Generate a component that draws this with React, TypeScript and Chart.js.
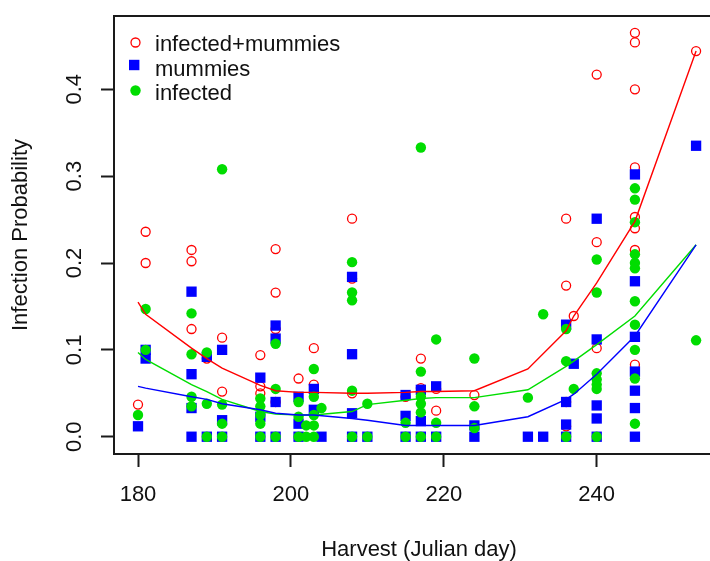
import React, { useEffect, useRef } from 'react';
import { Chart, registerables } from 'chart.js';

Chart.register(...registerables);

// ---- data: infected+mummies (red open circles)
const redX = [180, 181, 181, 187, 187, 187, 189, 191, 191, 196, 196, 196, 198, 198, 198, 198, 201, 203, 203, 208, 208, 208, 215, 217, 217, 219, 219, 224, 236, 236, 236, 236, 237, 240, 240, 240, 245, 245, 245, 245, 245, 245, 245, 245, 253];
const redY = [0.037, 0.236, 0.2, 0.215, 0.202, 0.124, 0.09, 0.114, 0.052, 0.094, 0.058, 0.05, 0.216, 0.166, 0.124, 0.04, 0.067, 0.102, 0.06, 0.251, 0.182, 0.05, 0.046, 0.09, 0.056, 0.055, 0.03, 0.048, 0.251, 0.174, 0.04, 0.012, 0.139, 0.417, 0.224, 0.102, 0.465, 0.454, 0.4, 0.31, 0.253, 0.24, 0.215, 0.083, 0.444];

// ---- mummies (blue squares)
const blueX = [180, 181, 181, 187, 187, 187, 187, 189, 189, 191, 191, 191, 196, 196, 196, 198, 198, 198, 198, 201, 201, 201, 203, 203, 204, 208, 208, 208, 208, 210, 215, 215, 215, 217, 217, 217, 219, 219, 224, 224, 231, 233, 236, 236, 236, 236, 237, 240, 240, 240, 240, 240, 245, 245, 245, 245, 245, 245, 245, 253];
const blueY = [0.012, 0.1, 0.09, 0.167, 0.072, 0.033, 0, 0.092, 0, 0.1, 0.019, 0, 0.068, 0.023, 0, 0.128, 0.113, 0.04, 0, 0.046, 0.015, 0, 0.055, 0.031, 0, 0.184, 0.095, 0.027, 0, 0, 0.048, 0.024, 0, 0.054, 0.018, 0, 0.058, 0, 0.013, 0, 0, 0, 0.129, 0.04, 0.014, 0, 0.084, 0.251, 0.112, 0.036, 0.021, 0, 0.302, 0.179, 0.115, 0.075, 0.053, 0.033, 0, 0.335];

// ---- infected (green dots)
const greenX = [180, 181, 181, 187, 187, 187, 187, 189, 189, 189, 191, 191, 191, 191, 196, 196, 196, 196, 196, 198, 198, 198, 201, 201, 201, 202, 202, 203, 203, 203, 203, 203, 204, 208, 208, 208, 208, 208, 210, 210, 215, 215, 217, 217, 217, 217, 217, 217, 219, 219, 219, 224, 224, 224, 231, 233, 236, 236, 236, 237, 240, 240, 240, 240, 240, 240, 240, 245, 245, 245, 245, 245, 245, 245, 245, 245, 245, 245, 253];
const greenY = [0.025, 0.147, 0.1, 0.142, 0.095, 0.046, 0.035, 0.097, 0.038, 0, 0.308, 0.037, 0.015, 0, 0.044, 0.035, 0.025, 0.015, 0, 0.107, 0.055, 0, 0.04, 0.023, 0, 0.013, 0, 0.078, 0.046, 0.025, 0.013, 0, 0.033, 0.201, 0.166, 0.157, 0.053, 0, 0.038, 0, 0.016, 0, 0.333, 0.075, 0.046, 0.038, 0.028, 0, 0.112, 0.016, 0, 0.09, 0.035, 0.01, 0.045, 0.141, 0.124, 0.087, 0, 0.055, 0.204, 0.166, 0.073, 0.066, 0.06, 0.055, 0, 0.286, 0.273, 0.247, 0.21, 0.2, 0.194, 0.156, 0.129, 0.1, 0.067, 0.015, 0.111];

// ---- fitted curves
const fitX = [180, 181, 187, 189, 191, 196, 198, 201, 203, 208, 210, 215, 217, 219, 224, 231, 236, 237, 240, 245, 253];
const fitRed = [0.155, 0.141, 0.102, 0.09, 0.079, 0.059, 0.053, 0.051, 0.051, 0.05, 0.05, 0.051, 0.052, 0.052, 0.053, 0.078, 0.122, 0.139, 0.177, 0.248, 0.444];
const fitBlue = [0.058, 0.056, 0.046, 0.043, 0.038, 0.031, 0.027, 0.025, 0.025, 0.021, 0.019, 0.013, 0.013, 0.013, 0.013, 0.023, 0.043, 0.049, 0.072, 0.116, 0.221];
const fitGreen = [0.097, 0.089, 0.06, 0.052, 0.043, 0.029, 0.026, 0.025, 0.025, 0.029, 0.037, 0.042, 0.044, 0.045, 0.045, 0.054, 0.081, 0.087, 0.106, 0.139, 0.221];

const xTicks = [180, 200, 220, 240];
const yTicks = [0, 0.1, 0.2, 0.3, 0.4];
const legendLabels = ['infected+mummies', 'mummies', 'infected'];
const xTitle = 'Harvest (Julian day)';
const yTitle = 'Infection Probability';

const RED = '#FF0000';
const BLUE = '#0000FF';
const GREEN = '#00DD00';
const INK = '#111111';
const AXIS = '#1a1a1a';
const FONT = '"Liberation Sans", Arial, Helvetica, sans-serif';

const pts = (xs: number[], ys: number[]) => xs.map((x, i) => ({ x, y: ys[i] }));

const decorPlugin = {
  id: 'decor',
  afterDraw(chart: any) {
    const { ctx, chartArea: a } = chart;
    ctx.save();
    // top border of the box
    ctx.strokeStyle = AXIS;
    ctx.lineWidth = 2;
    ctx.beginPath();
    ctx.moveTo(a.left - 1, a.top);
    ctx.lineTo(a.right + 1, a.top);
    ctx.stroke();

    // x axis title
    ctx.fillStyle = INK;
    ctx.font = `22px ${FONT}`;
    ctx.textAlign = 'center';
    ctx.textBaseline = 'middle';
    ctx.fillText(xTitle, 419, 550);

    // legend
    const mx = a.left + 21.5;
    const rows = [a.top + 26.5, a.top + 49, a.top + 74.5];
    const base = [a.top + 35, a.top + 59.5, a.top + 84];
    // red open circle
    ctx.strokeStyle = RED;
    ctx.lineWidth = 1.3;
    ctx.beginPath();
    ctx.arc(mx, rows[0], 4.5, 0, Math.PI * 2);
    ctx.stroke();
    // blue square
    ctx.fillStyle = BLUE;
    ctx.fillRect(mx - 6.5, rows[1] - 5.2, 10.4, 10.4);
    // green dot
    ctx.fillStyle = GREEN;
    ctx.beginPath();
    ctx.arc(mx, rows[2], 5.2, 0, Math.PI * 2);
    ctx.fill();

    ctx.fillStyle = INK;
    ctx.textAlign = 'left';
    ctx.textBaseline = 'alphabetic';
    legendLabels.forEach((t, i) => ctx.fillText(t, a.left + 41, base[i]));
    ctx.restore();
  },
};

export default function App() {
  const ref = useRef<HTMLCanvasElement | null>(null);

  useEffect(() => {
    if (!ref.current) return;
    const chart = new Chart(ref.current, {
      type: 'scatter',
      data: {
        datasets: [
          {
            label: 'fit infected+mummies',
            data: pts(fitX, fitRed),
            showLine: true,
            borderColor: RED,
            borderWidth: 1.4,
            pointRadius: 0,
            tension: 0,
            order: 0,
          },
          {
            label: 'fit mummies',
            data: pts(fitX, fitBlue),
            showLine: true,
            borderColor: BLUE,
            borderWidth: 1.4,
            pointRadius: 0,
            tension: 0,
            order: 0,
          },
          {
            label: 'fit infected',
            data: pts(fitX, fitGreen),
            showLine: true,
            borderColor: GREEN,
            borderWidth: 1.4,
            pointRadius: 0,
            tension: 0,
            order: 0,
          },
          {
            label: 'infected',
            data: pts(greenX, greenY),
            pointStyle: 'circle',
            pointRadius: 5.2,
            backgroundColor: GREEN,
            borderColor: GREEN,
            borderWidth: 0,
            order: 1,
          },
          {
            label: 'mummies',
            data: pts(blueX, blueY),
            pointStyle: 'rect',
            pointRadius: 7.3,
            backgroundColor: BLUE,
            borderColor: BLUE,
            borderWidth: 0,
            order: 2,
          },
          {
            label: 'infected+mummies',
            data: pts(redX, redY),
            pointStyle: 'circle',
            pointRadius: 4.5,
            backgroundColor: 'rgba(0,0,0,0)',
            borderColor: RED,
            borderWidth: 1.3,
            order: 3,
          },
        ],
      },
      options: {
        animation: false,
        responsive: false,
        events: [],
        layout: { autoPadding: false, padding: { top: 16, left: 0, right: 0, bottom: 0 } },
        plugins: {
          legend: { display: false },
          tooltip: { enabled: false },
          title: { display: false },
        },
        scales: {
          x: {
            type: 'linear',
            min: 176.86,
            max: 254.82,
            afterFit: (s: any) => {
              s.height = 107;
              s.paddingLeft = 0;
              s.paddingRight = 0;
            },
            afterBuildTicks: (s: any) => { s.ticks = xTicks.map((v) => ({ value: v })); },
            grid: {
              display: true,
              drawOnChartArea: false,
              drawTicks: true,
              tickLength: 13,
              tickWidth: 2,
              tickColor: AXIS,
            },
            border: { display: true, color: AXIS, width: 2 },
            ticks: {
              autoSkip: false,
              maxRotation: 0,
              minRotation: 0,
              padding: 15,
              color: INK,
              font: { family: FONT, size: 22 },
              callback: (v: any) => String(v),
            },
            title: { display: false },
          },
          y: {
            type: 'linear',
            min: -0.0199,
            max: 0.4844,
            afterFit: (s: any) => {
              s.width = 114;
              s.paddingTop = 0;
              s.paddingBottom = 0;
            },
            afterBuildTicks: (s: any) => { s.ticks = yTicks.map((v) => ({ value: v })); },
            grid: {
              display: true,
              drawOnChartArea: false,
              drawTicks: true,
              tickLength: 13,
              tickWidth: 2,
              tickColor: AXIS,
            },
            border: { display: true, color: AXIS, width: 2 },
            ticks: {
              autoSkip: false,
              minRotation: 90,
              maxRotation: 90,
              crossAlign: 'center',
              padding: 10.5,
              color: INK,
              font: { family: FONT, size: 22 },
              callback: (v: any) => Number(v).toFixed(1),
            },
            title: {
              display: true,
              text: yTitle,
              color: INK,
              font: { family: FONT, size: 22 },
              padding: { top: 8, bottom: 0 },
            },
          },
        },
      },
      plugins: [decorPlugin],
    } as any);
    return () => chart.destroy();
  }, []);

  return (
    <div style={{ position: 'fixed', left: 0, top: 0, width: 710, height: 561, background: '#fff' }}>
      <canvas ref={ref} width={710} height={561} style={{ display: 'block' }} />
    </div>
  );
}
